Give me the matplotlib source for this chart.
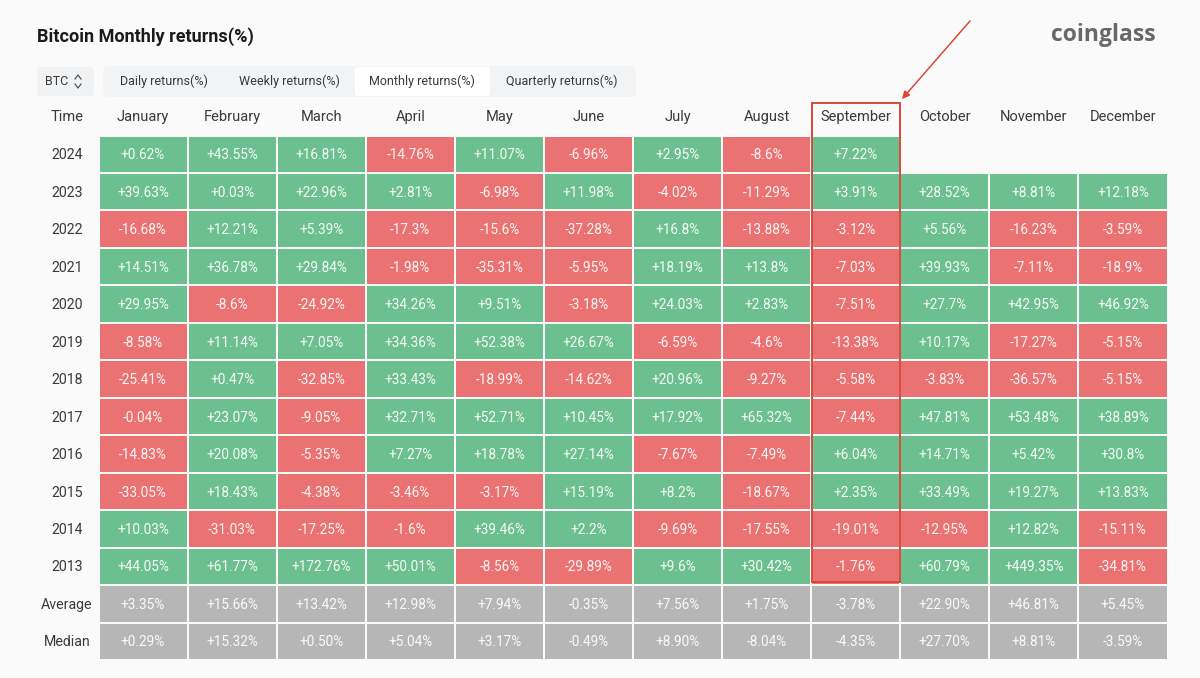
import numpy as np
import matplotlib
matplotlib.use("Agg")
import matplotlib.pyplot as plt
from matplotlib.colors import ListedColormap
from matplotlib.patches import FancyBboxPatch, Rectangle

months = ["January", "February", "March", "April", "May", "June", "July",
          "August", "September", "October", "November", "December"]
row_names = ["2024", "2023", "2022", "2021", "2020", "2019", "2018", "2017",
             "2016", "2015", "2014", "2013", "Average", "Median"]

r2024 = ["+0.62%", "+43.55%", "+16.81%", "-14.76%", "+11.07%", "-6.96%", "+2.95%", "-8.6%", "+7.22%", "", "", ""]
r2023 = ["+39.63%", "+0.03%", "+22.96%", "+2.81%", "-6.98%", "+11.98%", "-4.02%", "-11.29%", "+3.91%", "+28.52%", "+8.81%", "+12.18%"]
r2022 = ["-16.68%", "+12.21%", "+5.39%", "-17.3%", "-15.6%", "-37.28%", "+16.8%", "-13.88%", "-3.12%", "+5.56%", "-16.23%", "-3.59%"]
r2021 = ["+14.51%", "+36.78%", "+29.84%", "-1.98%", "-35.31%", "-5.95%", "+18.19%", "+13.8%", "-7.03%", "+39.93%", "-7.11%", "-18.9%"]
r2020 = ["+29.95%", "-8.6%", "-24.92%", "+34.26%", "+9.51%", "-3.18%", "+24.03%", "+2.83%", "-7.51%", "+27.7%", "+42.95%", "+46.92%"]
r2019 = ["-8.58%", "+11.14%", "+7.05%", "+34.36%", "+52.38%", "+26.67%", "-6.59%", "-4.6%", "-13.38%", "+10.17%", "-17.27%", "-5.15%"]
r2018 = ["-25.41%", "+0.47%", "-32.85%", "+33.43%", "-18.99%", "-14.62%", "+20.96%", "-9.27%", "-5.58%", "-3.83%", "-36.57%", "-5.15%"]
r2017 = ["-0.04%", "+23.07%", "-9.05%", "+32.71%", "+52.71%", "+10.45%", "+17.92%", "+65.32%", "-7.44%", "+47.81%", "+53.48%", "+38.89%"]
r2016 = ["-14.83%", "+20.08%", "-5.35%", "+7.27%", "+18.78%", "+27.14%", "-7.67%", "-7.49%", "+6.04%", "+14.71%", "+5.42%", "+30.8%"]
r2015 = ["-33.05%", "+18.43%", "-4.38%", "-3.46%", "-3.17%", "+15.19%", "+8.2%", "-18.67%", "+2.35%", "+33.49%", "+19.27%", "+13.83%"]
r2014 = ["+10.03%", "-31.03%", "-17.25%", "-1.6%", "+39.46%", "+2.2%", "-9.69%", "-17.55%", "-19.01%", "-12.95%", "+12.82%", "-15.11%"]
r2013 = ["+44.05%", "+61.77%", "+172.76%", "+50.01%", "-8.56%", "-29.89%", "+9.6%", "+30.42%", "-1.76%", "+60.79%", "+449.35%", "-34.81%"]
average = ["+3.35%", "+15.66%", "+13.42%", "+12.98%", "+7.94%", "-0.35%", "+7.56%", "+1.75%", "-3.78%", "+22.90%", "+46.81%", "+5.45%"]
median = ["+0.29%", "+15.32%", "+0.50%", "+5.04%", "+3.17%", "-0.49%", "+8.90%", "-8.04%", "-4.35%", "+27.70%", "+8.81%", "-3.59%"]

rows = [r2024, r2023, r2022, r2021, r2020, r2019, r2018, r2017, r2016, r2015, r2014, r2013, average, median]
tabs = ["Daily returns(%)", "Weekly returns(%)", "Monthly returns(%)", "Quarterly returns(%)"]

FUNDO = "#FAFAFA"
VERDE = "#6CBF8E"
VERMELHO = "#EA7272"
CINZA = "#B6B6B6"
TEXTO = "#3A3A3A"
SETA = "#D9493A"
W, H = 1200, 678

plt.rcParams["font.family"] = ["Roboto", "DejaVu Sans"]

fig = plt.figure(figsize=(W / 100, H / 100), dpi=100, facecolor=FUNDO)

# Tabela
x0, x1, y0, y1 = 98.5, 1167.5, 135.5, 660
ax = fig.add_axes([x0 / W, 1 - y1 / H, (x1 - x0) / W, (y1 - y0) / H], zorder=1)

# Camada da página, em pixels, por cima da tabela
page = fig.add_axes([0, 0, 1, 1], zorder=2)
page.set_xlim(0, W)
page.set_ylim(H, 0)
page.axis("off")

codes = np.full((len(rows), len(months)), np.nan)
for i, row in enumerate(rows):
    for j, val in enumerate(row):
        if not val:
            continue
        if row_names[i] in ("Average", "Median"):
            codes[i, j] = 2
        elif val.startswith("+"):
            codes[i, j] = 1
        else:
            codes[i, j] = 0

cmap = ListedColormap([VERMELHO, VERDE, CINZA])
ax.pcolormesh(np.ma.masked_invalid(codes), cmap=cmap, vmin=0, vmax=2,
              edgecolors=FUNDO, linewidth=1.1)
ax.set_xlim(0, len(months))
ax.set_ylim(len(rows), 0)
ax.axis("off")

for i, row in enumerate(rows):
    for j, val in enumerate(row):
        ax.text(j + 0.5, i + 0.53, val, ha="center", va="center",
                color="white", fontsize=9.8, alpha=0.93)

# Cabeçalhos das colunas e das linhas
col_w = (x1 - x0) / len(months)
row_h = (y1 - y0) / len(rows)
for j, m in enumerate(months):
    page.text(x0 + (j + 0.5) * col_w, 117, m, ha="center", va="center",
              color=TEXTO, fontsize=10.5)
page.text(67, 117, "Time", ha="center", va="center", color=TEXTO, fontsize=10.5)
for i, nome in enumerate(row_names):
    page.text(67, y0 + (i + 0.53) * row_h, nome, ha="center", va="center",
              color=TEXTO, fontsize=10.2)

# Título e logo
page.text(37, 37, "Bitcoin Monthly returns(%)", ha="left", va="center",
          color="#1A1A1A", fontsize=13, fontweight="bold")
page.text(1156, 35, "coinglass", ha="right", va="center", color="#66686B",
          fontsize=16.5, fontweight="bold", family=["Open Sans", "DejaVu Sans"])

# Seletor BTC
page.add_patch(FancyBboxPatch((37, 67), 57, 29, boxstyle="round,pad=0,rounding_size=4",
                              fc="#F1F2F4", ec="none"))
page.text(45, 81.5, "BTC", ha="left", va="center", color=TEXTO, fontsize=9)
page.plot([75, 78, 81], [79, 75, 79], color="#555555", lw=0.9)
page.plot([75, 78, 81], [84, 88, 84], color="#555555", lw=0.9)

# Abas
page.add_patch(FancyBboxPatch((103, 66), 533, 31, boxstyle="round,pad=0,rounding_size=6",
                              fc="#F2F3F5", ec="none"))
page.add_patch(FancyBboxPatch((355, 67), 135, 29, boxstyle="round,pad=0,rounding_size=3",
                              fc="white", ec="none"))
for cx, nome in zip([164, 289, 422, 562], tabs):
    page.text(cx, 81.5, nome, ha="center", va="center", color=TEXTO, fontsize=9)

# Destaque de setembro e seta
page.add_patch(Rectangle((812, 103), 88, 479, fc="none", ec=SETA, lw=1.4, zorder=5))
page.annotate("", xy=(902, 99), xytext=(970, 21), zorder=5,
              arrowprops=dict(arrowstyle="-|>", color=SETA, lw=1.1, shrinkA=0, shrinkB=0,
                              mutation_scale=11))

fig.savefig("out.png", dpi=100, facecolor=FUNDO)
